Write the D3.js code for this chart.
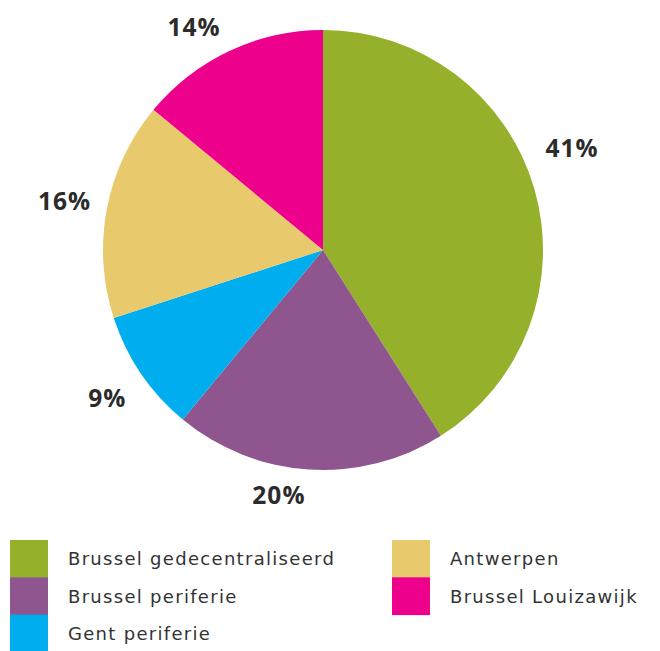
<!DOCTYPE html>
<html>
<head>
<meta charset="utf-8">
<script src="https://cdn.jsdelivr.net/npm/d3@7"></script>
<style>
  html, body { margin: 0; padding: 0; background: #fff; }
  svg { display: block; }
</style>
</head>
<body>
<svg id="chart" width="660" height="651"></svg>
<script>
// Office locations, share of total (%)
const categories = ["Brussel gedecentraliseerd", "Brussel periferie", "Gent periferie", "Antwerpen", "Brussel Louizawijk"];
const values = [41, 20, 9, 16, 14];
const colors = ["#95b02b", "#8e558e", "#00adee", "#e8ca6c", "#ec008c"];

// Label placement around the pie: angular nudge (degrees) and distance from centre
const labelNudge = [-6, 6.6, -0.4, -0.2, -4.9];
const labelDist = [269, 249, 262, 263, 257];

const svg = d3.select("#chart");
const cx = 323, cy = 250, radius = 220;

const pie = d3.pie().sort(null).value(d => d.value);
const arcs = pie(categories.map((c, i) => ({ name: c, value: values[i], color: colors[i], i })));

const arc = d3.arc().innerRadius(0).outerRadius(radius);

const g = svg.append("g").attr("transform", `translate(${cx},${cy})`);

g.selectAll("path.slice")
  .data(arcs)
  .join("path")
  .attr("class", "slice")
  .attr("d", arc)
  .attr("fill", d => d.data.color);

function labelPos(d) {
  const a = (d.startAngle + d.endAngle) / 2 + labelNudge[d.data.i] * Math.PI / 180;
  const r = labelDist[d.data.i];
  return [Math.sin(a) * r, -Math.cos(a) * r];
}

g.selectAll("text.pct")
  .data(arcs)
  .join("text")
  .attr("class", "pct")
  .attr("transform", d => `translate(${labelPos(d)})`)
  .attr("text-anchor", "middle")
  .attr("dy", "0.35em")
  .attr("font-family", "'Open Sans', sans-serif")
  .attr("font-weight", 700)
  .attr("font-size", 24.5)
  .attr("letter-spacing", 1)
  .attr("fill", "#2b2b2b")
  .text(d => d.data.value + "%");

// Legend: three rows per column, filled column by column
const rows = 3, swatchW = 38, rowH = 37.3, colX = [10, 392], legendTop = 540;
const legend = svg.append("g");
const item = legend.selectAll("g.item")
  .data(arcs.map(d => d.data))
  .join("g")
  .attr("class", "item")
  .attr("transform", (d, i) => `translate(${colX[Math.floor(i / rows)]},${legendTop + (i % rows) * rowH})`);

item.append("rect")
  .attr("width", swatchW)
  .attr("height", rowH + 0.5)
  .attr("fill", d => d.color);

item.append("text")
  .attr("x", swatchW + 20)
  .attr("y", rowH / 2)
  .attr("dy", "0.38em")
  .attr("font-family", "'DejaVu Sans', sans-serif")
  .attr("font-size", 18)
  .attr("letter-spacing", 1.3)
  .attr("fill", "#333")
  .text(d => d.name);
</script>
</body>
</html>
